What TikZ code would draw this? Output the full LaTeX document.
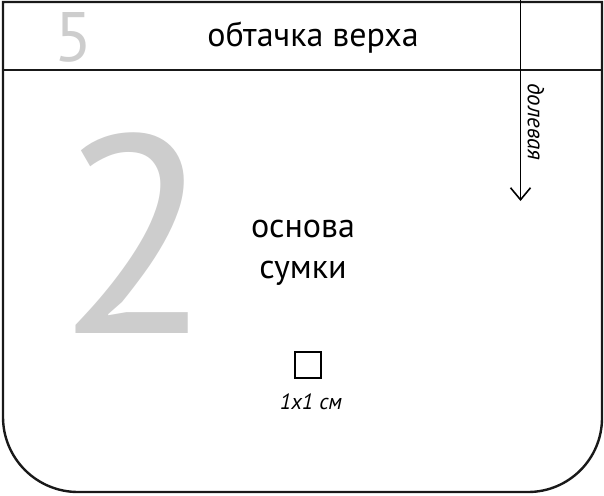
\documentclass[tikz,border=0pt]{standalone}
\usepackage{fontspec}
\setmainfont{PT Sans}
\usetikzlibrary{arrows.meta}
\definecolor{numgray}{HTML}{CDCDCD}
\tikzset{
  outline/.style={line width=2.4pt, draw=black!90},
  bignum/.style={text=numgray, inner sep=0pt, anchor=base},
  label/.style={inner sep=0pt, anchor=base},
  grain/.style={line width=1.6pt, -{Straight Barb[length=12pt, width=20pt, line width=1.6pt]}}
}
\begin{document}
\begin{tikzpicture}[x=1pt,y=-1pt]
\useasboundingbox (0,0) rectangle (604,495);
% outline
\draw[outline] (3,2) -- (602,2) -- (602,418) arc[start angle=0, end angle=90, radius=74] -- (78,492) arc[start angle=90, end angle=180, radius=75] -- cycle;
\draw[outline] (3,70) -- (602,70);
% grain line
\coordinate (gtop) at (520.5,0);
\coordinate (gbot) at (520.5,201);
\draw[grain] (gtop) -- (gbot);
\node[inner sep=0pt, anchor=center, rotate=-90, font=\itshape\fontsize{23}{26}\selectfont] (dol) at (536,122) {долевая};
% big numbers
\node[bignum, font=\fontsize{70}{72}\selectfont] (five) at (74,62) {5};
\node[bignum, font=\fontsize{282}{282}\selectfont] (two) at (135,333) {2};
% texts
\node[label, font=\fontsize{34}{36}\selectfont] (obt) at (313,47) {обтачка верха};
\node[label, font=\fontsize{34}{36}\selectfont] (osn) at (303,237) {основа};
\node[label, font=\fontsize{34}{36}\selectfont] (sum) at (303,278) {сумки};
% scale square
\node[draw=black, line width=2.4pt, minimum size=26pt, inner sep=0pt] (sq) at (308,365) {};
\node[label, font=\itshape\fontsize{22}{24}\selectfont] (scale) at (311,409) {1x1 см};
\end{tikzpicture}
\end{document}
